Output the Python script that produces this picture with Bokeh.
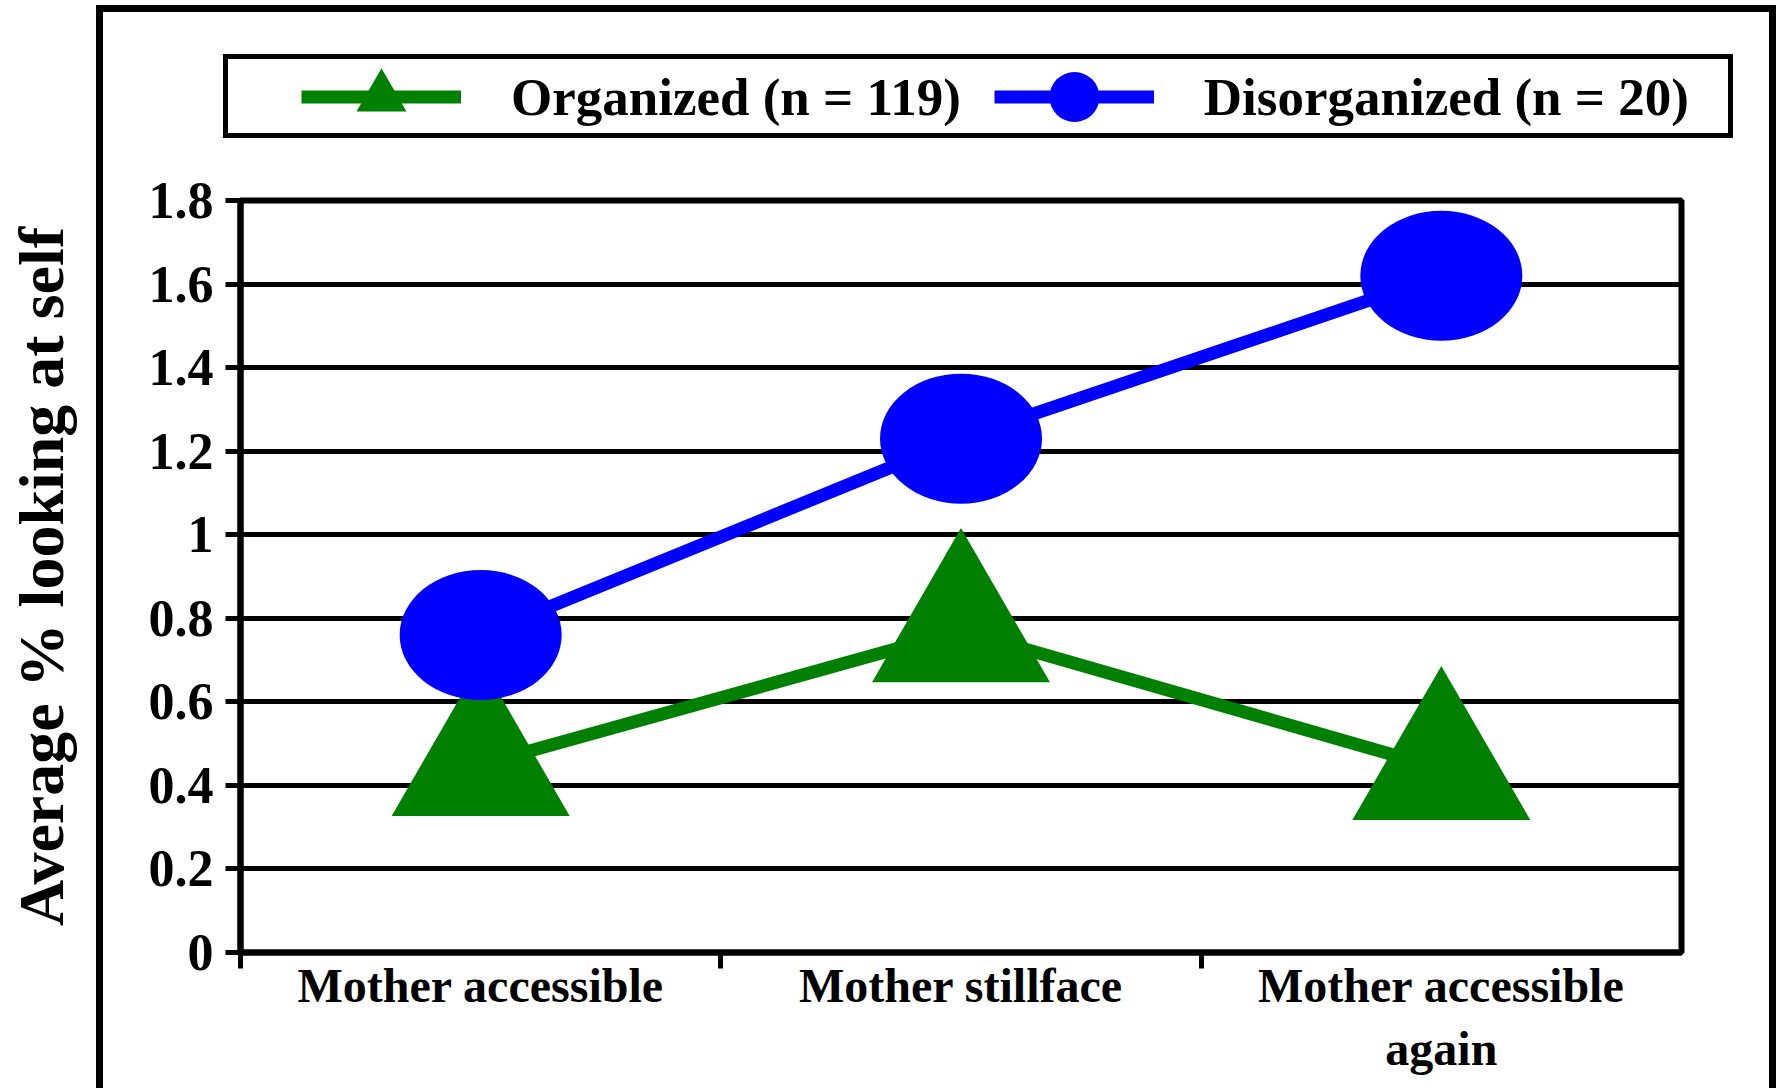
from bokeh.plotting import figure
from bokeh.layouts import column
from bokeh.models import (Range1d, FixedTicker, Legend, LegendItem,
                          ColumnDataSource, InlineStyleSheet)
from bokeh.embed import file_html
from bokeh.resources import INLINE

# ---- data ----
categories = ["Mother accessible", "Mother stillface", "Mother accessible\nagain"]
organized = [0.45, 0.77, 0.44]
disorganized = [0.76, 1.23, 1.62]
y_ticks = [0, 0.2, 0.4, 0.6, 0.8, 1.0, 1.2, 1.4, 1.6, 1.8]
y_tick_labels = ["0", "0.2", "0.4", "0.6", "0.8", "1", "1.2", "1.4", "1.6", "1.8"]
series_labels = ["Organized (n = 119)", "Disorganized (n = 20)"]
y_label = "Average % looking at self"

FONT = "Liberation Serif"
GREEN = "#008000"
BLUE = "#0000FF"

x_pos = [i + 0.5 for i in range(len(categories))]
boundaries = list(range(len(categories)))
src = ColumnDataSource(dict(x=x_pos, org=organized, dis=disorganized))

# ---------------- main chart ----------------
p = figure(frame_width=1441, frame_height=752,
           min_border_left=240, min_border_right=100,
           min_border_top=30, min_border_bottom=136,
           x_range=Range1d(0, len(categories)), y_range=Range1d(0, 1.8),
           output_backend="svg", toolbar_location=None, tools="")
p.frame_align = False

p.background_fill_color = "white"
p.border_fill_color = "white"
p.outline_line_color = "black"
p.outline_line_width = 6
p.outline_line_alpha = 1

p.xgrid.visible = False
p.ygrid.grid_line_color = "black"
p.ygrid.grid_line_width = 5
p.ygrid.grid_line_alpha = 1

ya = p.yaxis[0]
ya.ticker = FixedTicker(ticks=y_ticks)
ya.major_label_overrides = dict(zip(y_ticks, y_tick_labels))
ya.axis_label = y_label
ya.axis_label_text_font = FONT
ya.axis_label_text_font_style = "bold"
ya.axis_label_text_font_size = "64px"
ya.axis_label_text_color = "black"
ya.axis_label_standoff = 69
ya.major_label_text_font = FONT
ya.major_label_text_font_style = "bold"
ya.major_label_text_font_size = "52px"
ya.major_label_text_color = "black"
ya.major_label_standoff = 12
ya.major_tick_out = 15
ya.major_tick_in = 0
ya.major_tick_line_width = 5
ya.major_tick_line_color = "black"
ya.minor_tick_line_color = None
ya.axis_line_width = 6
ya.axis_line_color = "black"

xa = p.xaxis[0]
xa.ticker = FixedTicker(ticks=x_pos, minor_ticks=boundaries)
xa.major_label_overrides = dict(zip(x_pos, categories))
xa.major_label_text_font = FONT
xa.major_label_text_font_style = "bold"
xa.major_label_text_font_size = "48px"
xa.major_label_text_color = "black"
xa.major_label_standoff = -10
xa.major_tick_out = 0
xa.major_tick_in = 0
xa.major_tick_line_color = None
xa.minor_tick_out = 16
xa.minor_tick_in = 0
xa.minor_tick_line_width = 5
xa.minor_tick_line_color = "black"
xa.axis_line_width = 6
xa.axis_line_color = "black"

p.line("x", "org", source=src, line_color=GREEN, line_width=13)
p.line("x", "dis", source=src, line_color=BLUE, line_width=13)
p.scatter("x", "org", source=src, marker="triangle", size=178,
          fill_color=GREEN, line_color=None)
p.ellipse("x", "dis", source=src, width=162, height=130,
          width_units="screen", height_units="screen",
          fill_color=BLUE, line_color=None)

# ---------------- legend strip ----------------
lf = figure(width=1781, height=170, min_border=0,
            min_border_left=240, min_border_right=0,
            x_range=Range1d(0, 1), y_range=Range1d(0, 1),
            x_axis_type=None, y_axis_type=None,
            output_backend="svg", toolbar_location=None, tools="")
lf.frame_align = False
lf.grid.visible = False
lf.outline_line_color = None
lf.background_fill_color = "white"
lf.border_fill_color = "white"

lg_gl = lf.line("x", "org", source=src, line_color=GREEN, line_width=13, visible=False)
lg_gt = lf.scatter("x", "org", source=src, marker="triangle", size=10,
                   fill_color=GREEN, line_color=None, visible=False)
lg_bl = lf.line("x", "dis", source=src, line_color=BLUE, line_width=13, visible=False)
lg_bc = lf.scatter("x", "dis", source=src, marker="circle", size=10,
                   fill_color=BLUE, line_color=None, visible=False)

legend = Legend(items=[LegendItem(label=series_labels[0], renderers=[lg_gl, lg_gt]),
                       LegendItem(label=series_labels[1], renderers=[lg_bl, lg_bc])],
                orientation="horizontal", location=(61, 11),
                padding=0, margin=0, spacing=33, label_standoff=50,
                glyph_width=160, glyph_height=125,
                border_line_alpha=0, background_fill_alpha=0,
                label_text_font=FONT, label_text_font_style="bold",
                label_text_font_size="53px", label_text_color="black",
                click_policy="none")
lf.add_layout(legend, "center")

layout = column(lf, p, spacing=0)

# decorative frames (outer chart frame and legend box)
layout.stylesheets = [InlineStyleSheet(css="""
:host { position: relative; }
:host::before { content: ""; position: absolute; left: 95.5px; top: 4.5px;
  width: 1680px; height: 1083.5px; box-sizing: border-box;
  border: 7px solid black; border-bottom: none; pointer-events: none; z-index: 10; }
:host::after { content: ""; position: absolute; left: 222.5px; top: 54px;
  width: 1510.5px; height: 84px; box-sizing: border-box;
  border: 5px solid black; pointer-events: none; z-index: 10; }
""")]

open("out.html", "w").write(file_html(layout, INLINE))
